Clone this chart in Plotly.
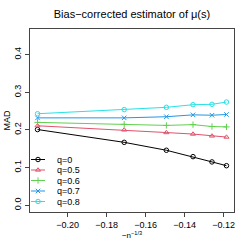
import plotly.graph_objects as go

# Data
n_values = [100, 200, 300, 400, 500, 600]
series_names = ["q=0", "q=0.5", "q=0.6", "q=0.7", "q=0.8"]
mad_q0 = [0.201, 0.167, 0.146, 0.129, 0.115, 0.105]
mad_q05 = [0.211, 0.200, 0.193, 0.189, 0.184, 0.181]
mad_q06 = [0.220, 0.215, 0.212, 0.214, 0.209, 0.208]
mad_q07 = [0.232, 0.232, 0.235, 0.240, 0.239, 0.241]
mad_q08 = [0.243, 0.254, 0.260, 0.267, 0.268, 0.274]
x_ticks = [-0.20, -0.18, -0.16, -0.14, -0.12]
y_ticks = [0.0, 0.1, 0.2, 0.3, 0.4]

x_vals = [-(n ** (-1.0 / 3.0)) for n in n_values]
all_series = [mad_q0, mad_q05, mad_q06, mad_q07, mad_q08]
colors = ["#000000", "#DF536B", "#61D04F", "#2297E6", "#28E2E5"]
symbols = ["circle-open", "triangle-up-open", "cross-thin-open", "x-thin-open", "circle-open"]

FONT = "Liberation Sans, Arial, Helvetica, sans-serif"

fig = go.Figure()
for name, ys, c, s in zip(series_names, all_series, colors, symbols):
    fig.add_trace(go.Scatter(
        x=x_vals, y=ys, mode="lines+markers", name=name,
        line=dict(color=c, width=1),
        marker=dict(symbol=s, size=4.5, color=c, line=dict(color=c, width=1)),
        showlegend=False,
    ))

# Manual legend (in an overlay pixel-like coordinate frame)
PW, PH = 204, 183
row_y = [52.5, 42, 31.5, 21, 10.5]
for name, c, s, ry in zip(series_names, colors, symbols, row_y):
    fig.add_trace(go.Scatter(
        x=[1, 8, 15], y=[ry, ry, ry], mode="lines", xaxis="x2", yaxis="y2",
        line=dict(color=c, width=1), showlegend=False, hoverinfo="skip",
    ))
    fig.add_trace(go.Scatter(
        x=[8], y=[ry], mode="markers", xaxis="x2", yaxis="y2",
        marker=dict(symbol=s, size=4.5, color=c, line=dict(color=c, width=1)),
        showlegend=False, hoverinfo="skip",
    ))
    fig.add_annotation(x=25, y=ry, xref="x2", yref="y2", text=name,
                       showarrow=False, xanchor="left", yanchor="middle",
                       font=dict(family=FONT, size=9, color="#000000"))

fig.update_layout(
    width=249, height=249,
    margin=dict(l=30, r=15, t=29, b=37, autoexpand=False),
    paper_bgcolor="white", plot_bgcolor="white",
    font=dict(family=FONT, size=9, color="#000000"),
    title=dict(text="Bias\u2212corrected estimator of \u03bc(s)", x=0.53, xanchor="center",
               yref="container", y=0.944, yanchor="middle",
               font=dict(family=FONT, size=11, color="#000000")),
    xaxis=dict(range=[-0.2193, -0.1147], tickvals=x_ticks, tickformat=".2f",
               automargin=False,
               showgrid=False, zeroline=False, showline=True, linecolor="#444",
               linewidth=1, mirror=True, ticks="outside", ticklen=4, tickcolor="#444",
               tickfont=dict(size=9),
               title=dict(text="\u2212n<sup>\u22121/3</sup>", standoff=2, font=dict(size=8))),
    yaxis=dict(range=[-0.018, 0.468], tickvals=y_ticks, tickformat=".1f",
               tickangle=-90, automargin=False,
               showgrid=False, zeroline=False, showline=True, linecolor="#444",
               linewidth=1, mirror=True, ticks="outside", ticklen=4, tickcolor="#444",
               tickfont=dict(size=9),
               title=dict(text="MAD", standoff=1, font=dict(size=9))),
    xaxis2=dict(range=[0, PW], overlaying="x", visible=False, fixedrange=True, automargin=False),
    yaxis2=dict(range=[0, PH], overlaying="y", visible=False, fixedrange=True, automargin=False),
    showlegend=False,
)

fig.write_html("out.html",
               config={"displayModeBar": False, "staticPlot": True},
               post_script="document.body.style.margin='0px';document.body.style.overflow='hidden';")
